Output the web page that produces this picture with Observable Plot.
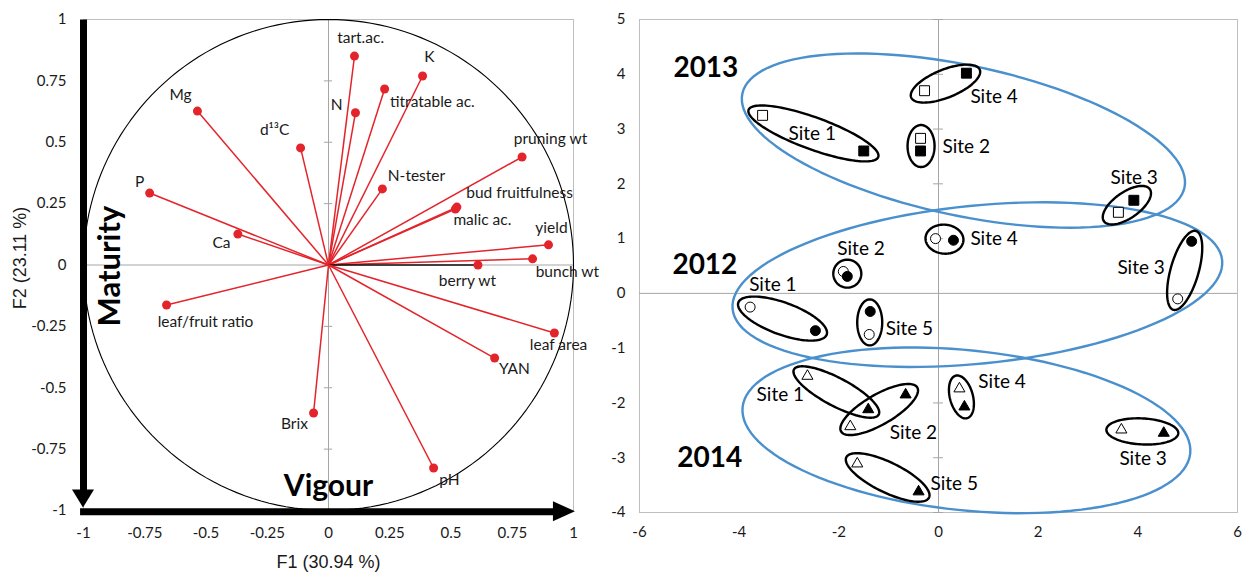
<!DOCTYPE html>
<html>
<head>
<meta charset="utf-8">
<script src="https://cdn.jsdelivr.net/npm/d3@7"></script>
<script src="https://cdn.jsdelivr.net/npm/@observablehq/plot@0.6"></script>
<style>
  html, body { margin: 0; padding: 0; background: #fff; }
  #wrap { position: relative; width: 1245px; height: 572px; overflow: hidden; }
  #left { position: absolute; left: 0; top: 0; }
  #right { position: absolute; left: 600px; top: 0; }
</style>
</head>
<body>
<div id="wrap"><div id="left"></div><div id="right"></div></div>
<script>
// ---------- Left panel: PCA correlation circle ----------
const varNames = ["tart.ac.", "K", "titratable ac.", "N", "Mg", "d¹³C", "pruning wt", "N-tester", "P",
  "bud fruitfulness", "malic ac.", "Ca", "yield", "bunch wt", "berry wt", "leaf/fruit ratio",
  "leaf area", "YAN", "Brix", "pH"];
const varF1 = [0.106, 0.384, 0.229, 0.110, -0.535, -0.114, 0.790, 0.220, -0.730,
  0.524, 0.518, -0.370, 0.898, 0.833, 0.610, -0.661, 0.922, 0.678, -0.061, 0.429];
const varF2 = [0.851, 0.770, 0.717, 0.620, 0.627, 0.477, 0.440, 0.310, 0.293,
  0.236, 0.228, 0.126, 0.082, 0.025, 0.000, -0.163, -0.277, -0.379, -0.603, -0.827];
// label anchor positions (centre of each label)
const labF1 = [0.131, 0.412, 0.424, 0.033, -0.604, -0.22, 0.906, 0.359, -0.771,
  0.78, 0.628, -0.437, 0.91, 0.975, 0.567, -0.502, 0.939, 0.759, -0.139, 0.494];
const labF2 = [0.925, 0.847, 0.664, 0.652, 0.692, 0.55, 0.513, 0.362, 0.338,
  0.293, 0.183, 0.09, 0.151, -0.029, -0.065, -0.232, -0.326, -0.424, -0.648, -0.876];
const leftTicks = [-1, -0.75, -0.5, -0.25, 0, 0.25, 0.5, 0.75, 1];
const leftXTitle = "F1 (30.94 %)";
const leftYTitle = "F2 (23.11 %)";

// ---------- Right panel: site/year scores ----------
const ptYear = [2013,2013,2013,2013,2013,2013,2013,2013,
  2012,2012,2012,2012,2012,2012,2012,2012,2012,2012,
  2014,2014,2014,2014,2014,2014,2014,2014,2014,2014];
const ptFilled = [false,true,false,true,false,true,false,true,
  false,true,false,true,false,true,false,true,false,true,
  false,true,false,true,false,true,false,true,false,true];
const ptX = [-3.53,-1.50, -0.28,0.56, -0.36,-0.36, 3.61,3.92,
  -1.91,-1.83, -0.06,0.30, 4.80,5.08, -3.78,-2.47, -1.39,-1.37,
  -2.63,-1.41, -1.77,-0.66, 0.42,0.52, 3.67,4.52, -1.63,-0.40];
const ptY = [3.25,2.60, 3.70,4.02, 2.83,2.60, 1.48,1.70,
  0.40,0.31, 1.00,0.97, -0.10,0.95, -0.25,-0.68, -0.75,-0.33,
  -1.51,-2.12, -2.43,-1.85, -1.74,-2.07, -2.49,-2.55, -3.11,-3.62];

const siteText = ["Site 1","Site 4","Site 2","Site 3","Site 4","Site 3","Site 2","Site 1","Site 5",
  "Site 1","Site 2","Site 4","Site 3","Site 5"];
const siteTX = [-3.01, 0.64, 0.08, 3.45, 0.64, 3.59, -2.03, -3.80, -1.06, -3.65, -0.98, 0.80, 3.63, -0.16];
const siteTY = [2.92, 3.59, 2.68, 2.10, 0.99, 0.47, 0.82, 0.15, -0.64, -1.86, -2.54, -1.61, -3.03, -3.47];
const yearText = ["2013", "2012", "2014"];
const yearTX = [-5.32, -5.34, -5.24];
const yearTY = [4.12, 0.51, -3.01];
const rightXTicks = [-6, -4, -2, 0, 2, 4, 6];
const rightYTicks = [-4, -3, -2, -1, 0, 1, 2, 3, 4, 5];

// grouping ellipses: centre (data), semi-axes (px), angle (deg, screen)
const ellKind = ["year","year","year",
  "site","site","site","site","site","site","site","site","site","site","site","site","site","site"];
const ellCX = [0.50, 0.78, 0.56, -2.51, 0.14, -0.35, 3.78, -1.83, 0.12, 4.94, -3.13, -1.38, -2.05, -1.19, 0.46, 4.09, -1.02];
const ellCY = [2.79, 0.16, -2.50, 2.92, 3.83, 2.69, 1.61, 0.36, 0.99, 0.42, -0.46, -0.53, -1.80, -2.12, -1.89, -2.52, -3.36];
const ellA = [226, 246, 225, 69, 37, 21, 28, 14, 19, 41, 47, 23, 48, 44, 22, 36, 46];
const ellB = [75, 79, 80, 16, 14, 13.5, 13, 14, 14.5, 14, 16, 12.5, 14, 15, 11.5, 13, 15];
const ellAng = [12, -5.7, 5.9, 20, -22, 90, -35, 0, 5, -74, 20, 90, 28, -30, 75, 3, 26];

// ---------- build left ----------
const RED = "#e3242b";
const vars = varNames.map((n, i) => ({name: n, x: varF1[i], y: varF2[i], lx: labF1[i], ly: labF2[i]}));
const circle = d3.range(0, 361, 2).map(a => ({x: Math.cos(a * Math.PI / 180), y: Math.sin(a * Math.PI / 180)}));
const headRight = [{x: 0.918, y1: -1.046, y2: -0.964}, {x: 1.008, y1: -1.005, y2: -1.005}];
const headDown = [{y: -0.916, x1: -1.045, x2: -0.955}, {y: -0.99, x1: -1.0, x2: -1.0}];
const innerTicks = leftTicks.filter(d => d !== 0);

const left = Plot.plot({
  width: 600, height: 572,
  marginLeft: 83, marginRight: 27, marginTop: 19, marginBottom: 62,
  x: {domain: [-1, 1]},
  y: {domain: [-1, 1]},
  style: {fontFamily: "Lato", fontSize: "15px", color: "#1a1a1a", background: "white"},
  marks: [
    Plot.frame({stroke: "#bfbfbf"}),
    Plot.ruleX([0], {stroke: "#a6a6a6"}),
    Plot.ruleY([0], {stroke: "#a6a6a6"}),
    Plot.ruleY(innerTicks, {x1: -0.017, x2: 0.017, stroke: "#a6a6a6"}),
    Plot.axisX(leftTicks, {tickSize: 0, tickPadding: 17, tickFormat: d => String(d), label: null, fontSize: 15}),
    Plot.axisY(leftTicks, {tickSize: 0, tickPadding: 17, tickFormat: d => String(d), label: null, fontSize: 15}),
    Plot.line(circle, {x: "x", y: "y", stroke: "black", strokeWidth: 1.1}),
    Plot.link(vars, {x1: 0, y1: 0, x2: "x", y2: "y", stroke: d => d.name === "berry wt" ? "#111" : RED, strokeWidth: 1.5}),
    Plot.dot(vars, {x: "x", y: "y", r: 4.5, fill: RED}),
    Plot.text(vars, {x: "lx", y: "ly", text: "name", fontSize: 15.5, fill: "#1a1a1a"}),
    // thick arrows
    Plot.link([{a: 0}], {x1: -1, x2: -1, y1: 1, y2: -0.92, stroke: "black", strokeWidth: 7}),
    Plot.areaX(headDown, {y: "y", x1: "x1", x2: "x2", fill: "black"}),
    Plot.link([{a: 0}], {x1: -1.014, x2: 0.925, y1: -1.005, y2: -1.005, stroke: "black", strokeWidth: 7}),
    Plot.areaY(headRight, {x: "x", y1: "y1", y2: "y2", fill: "black"}),
    Plot.text(["Maturity"], {x: -1, y: 0, dx: 27, dy: 1, rotate: -90, fontSize: 31, fontWeight: "bold", fill: "black"}),
    Plot.text(["Vigour"], {x: 0, y: -1, dy: -24, fontSize: 30, fontWeight: "bold", fill: "black"}),
    Plot.text([leftXTitle], {x: 0, y: -1, dy: 52, fontSize: 18, fontFamily: "Liberation Sans", fill: "#1a1a1a"}),
    Plot.text([leftYTitle], {x: -1, y: 0, dx: -63, dy: -7, rotate: -90, fontSize: 18, fontFamily: "Liberation Sans", fill: "#1a1a1a"})
  ]
});
document.getElementById("left").appendChild(left);

// ---------- build right ----------
const RW = 645, RH = 572, RML = 39, RMR = 8, RMT = 19, RMB = 60;
const kx = (RW - RML - RMR) / 12, ky = (RH - RMT - RMB) / 9;
const pts = ptX.map((x, i) => ({x, y: ptY[i], year: ptYear[i], filled: ptFilled[i]}));
const ellPts = [];
ellCX.forEach((cx, i) => {
  const th = ellAng[i] * Math.PI / 180, a = ellA[i], b = ellB[i];
  for (let t = 0; t < 360; t += 3) {
    const tr = t * Math.PI / 180;
    const dx = a * Math.cos(tr) * Math.cos(th) - b * Math.sin(tr) * Math.sin(th);
    const dy = a * Math.cos(tr) * Math.sin(th) + b * Math.sin(tr) * Math.cos(th);
    ellPts.push({id: i, kind: ellKind[i], x: cx + dx / kx, y: ellCY[i] - dy / ky});
  }
});
const sym = {2013: "square", 2012: "circle", 2014: "triangle"};
const rad = {2013: 5.6, 2012: 5, 2014: 4.1};
const sites = siteText.map((t, i) => ({t, x: siteTX[i], y: siteTY[i]}));
const years = yearText.map((t, i) => ({t, x: yearTX[i], y: yearTY[i]}));
const crossTicks = rightYTicks.filter(d => d !== 0);

const right = Plot.plot({
  width: RW, height: RH,
  marginLeft: RML, marginRight: RMR, marginTop: RMT, marginBottom: RMB,
  x: {domain: [-6, 6]},
  y: {domain: [-4, 5]},
  style: {fontFamily: "Lato", fontSize: "15px", color: "#1a1a1a", background: "white"},
  marks: [
    Plot.frame({stroke: "#bfbfbf"}),
    Plot.ruleX([0], {stroke: "#a6a6a6"}),
    Plot.ruleY([0], {stroke: "#a6a6a6"}),
    Plot.ruleY(crossTicks, {x1: -0.1, x2: 0.1, stroke: "#a6a6a6"}),
    Plot.axisX(rightXTicks, {tickSize: 0, tickPadding: 14, tickFormat: d => String(d), label: null, fontSize: 15}),
    Plot.axisY(rightYTicks, {tickSize: 0, tickPadding: 14, tickFormat: d => String(d), label: null, fontSize: 15}),
    Plot.line(ellPts.filter(d => d.kind === "year"), {x: "x", y: "y", z: "id", curve: "linear-closed", stroke: "#4a90cd", strokeWidth: 2.4}),
    Plot.line(ellPts.filter(d => d.kind === "site"), {x: "x", y: "y", z: "id", curve: "linear-closed", stroke: "black", strokeWidth: 2.4}),
    ...[2013, 2012, 2014].map(yr => Plot.dot(pts.filter(d => d.year === yr), {
      x: "x", y: "y", symbol: sym[yr], r: rad[yr],
      fill: d => d.filled ? "black" : "white", stroke: "black", strokeWidth: 1
    })),
    Plot.text(sites, {x: "x", y: "y", text: "t", textAnchor: "start", fontSize: 19, fill: "black"}),
    Plot.text(years, {x: "x", y: "y", text: "t", textAnchor: "start", fontSize: 28, fontWeight: "bold", fill: "black"})
  ]
});
document.getElementById("right").appendChild(right);
</script>
</body>
</html>
